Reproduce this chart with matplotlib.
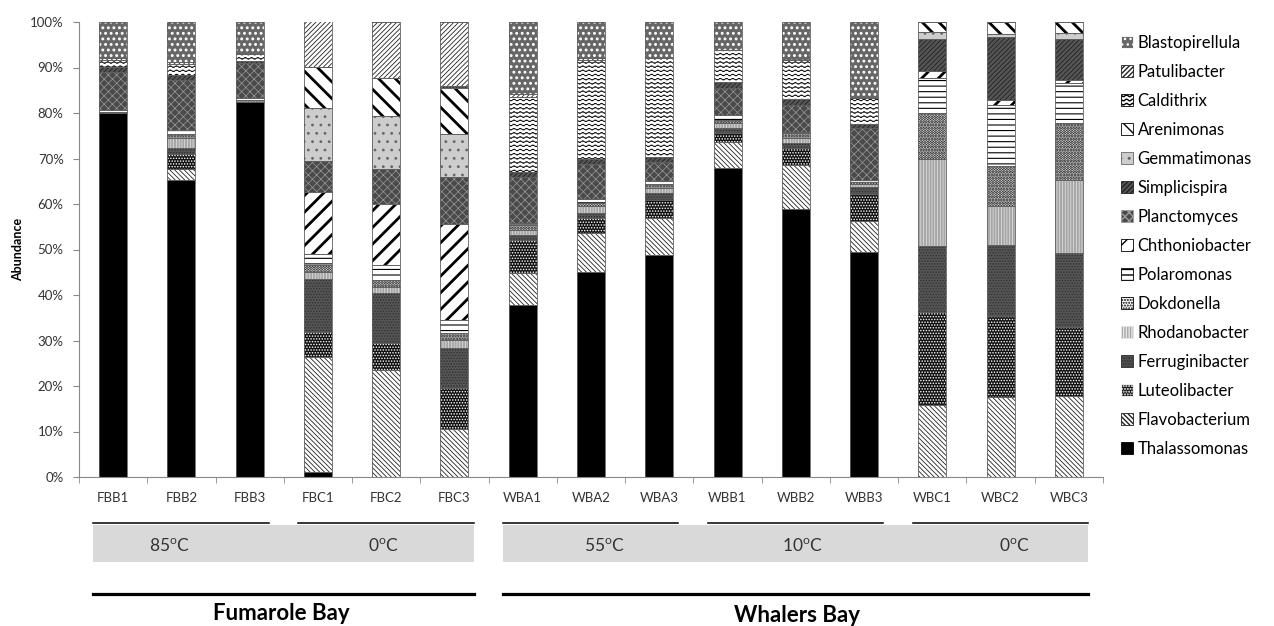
import warnings
import numpy as np
import matplotlib
matplotlib.use("Agg")
import matplotlib.pyplot as plt
import matplotlib.hatch as mhatch
from matplotlib.path import Path
from matplotlib.patches import Patch, Rectangle
from matplotlib.transforms import blended_transform_factory
from matplotlib.ticker import FuncFormatter

warnings.filterwarnings("ignore")

plt.rcParams['font.family'] = ['Lato', 'DejaVu Sans']
plt.rcParams['mathtext.fontset'] = 'custom'
plt.rcParams['mathtext.rm'] = 'Lato'

samples = ['FBB1', 'FBB2', 'FBB3', 'FBC1', 'FBC2', 'FBC3',
           'WBA1', 'WBA2', 'WBA3', 'WBB1', 'WBB2', 'WBB3',
           'WBC1', 'WBC2', 'WBC3']

# relative abundance (%) per genus, bottom of the stack first
thalassomonas   = [80.0, 65.3, 82.5, 1.0, 0.0, 0.0, 37.8, 45.1, 48.8, 68.0, 59.0, 49.5, 0.0, 0.0, 0.0]
flavobacterium  = [0.0, 2.5, 0.0, 25.3, 23.5, 10.5, 7.1, 8.5, 8.1, 5.7, 9.6, 6.8, 15.8, 17.5, 17.8]
luteolibacter   = [0.0, 3.2, 0.0, 5.5, 5.9, 9.0, 7.2, 3.3, 4.0, 1.8, 3.6, 6.0, 20.5, 17.9, 15.1]
ferruginibacter = [0.0, 1.2, 0.0, 11.7, 11.0, 8.8, 1.1, 1.1, 1.5, 1.1, 1.1, 1.5, 14.5, 15.6, 16.4]
rhodanobacter   = [0.0, 2.2, 0.0, 1.5, 1.4, 1.8, 1.1, 1.5, 1.1, 1.1, 1.1, 0.5, 19.0, 8.6, 16.0]
dokdonella      = [0.3, 1.0, 0.4, 1.5, 1.5, 1.5, 1.1, 0.7, 1.0, 0.7, 1.1, 0.5, 10.1, 8.8, 12.6]
polaromonas     = [0.3, 0.8, 0.4, 2.6, 3.3, 2.8, 0.5, 1.0, 0.5, 1.1, 0.3, 0.5, 7.9, 13.4, 8.6]
chthoniobacter  = [0.0, 0.0, 0.0, 13.5, 13.4, 21.2, 0.0, 0.0, 0.0, 0.0, 0.0, 0.0, 1.5, 1.1, 0.7]
planctomyces    = [8.5, 11.0, 7.7, 6.8, 7.6, 10.3, 10.1, 7.5, 4.3, 5.9, 5.9, 11.3, 0.0, 0.0, 0.0]
simplicispira   = [1.0, 1.2, 0.5, 0.0, 0.0, 0.0, 1.1, 1.1, 1.1, 1.5, 1.4, 1.0, 6.9, 13.9, 9.0]
gemmatimonas    = [0.0, 0.0, 0.0, 11.7, 11.7, 9.5, 0.0, 0.0, 0.0, 0.0, 0.0, 0.0, 1.5, 0.5, 1.3]
arenimonas      = [0.0, 0.0, 0.0, 8.9, 8.3, 10.2, 0.0, 0.0, 0.0, 0.0, 0.0, 0.0, 2.3, 2.7, 2.5]
caldithrix      = [1.5, 2.3, 1.5, 0.0, 0.0, 0.4, 16.5, 21.8, 21.6, 6.9, 8.5, 5.8, 0.0, 0.0, 0.0]
patulibacter    = [0.5, 0.4, 0.0, 10.3, 12.4, 14.0, 0.5, 0.4, 0.0, 0.0, 0.0, 0.0, 0.0, 0.0, 0.0]
blastopirellula = [8.0, 8.8, 7.0, 0.0, 0.0, 0.0, 15.9, 8.0, 8.0, 6.2, 8.4, 16.6, 0.0, 0.0, 0.0]

genera = ['Thalassomonas', 'Flavobacterium', 'Luteolibacter', 'Ferruginibacter',
          'Rhodanobacter', 'Dokdonella', 'Polaromonas', 'Chthoniobacter',
          'Planctomyces', 'Simplicispira', 'Gemmatimonas', 'Arenimonas',
          'Caldithrix', 'Patulibacter', 'Blastopirellula']
series = [thalassomonas, flavobacterium, luteolibacter, ferruginibacter,
          rhodanobacter, dokdonella, polaromonas, chthoniobacter,
          planctomyces, simplicispira, gemmatimonas, arenimonas,
          caldithrix, patulibacter, blastopirellula]

sites = ['Fumarole Bay', 'Whalers Bay']
temps = ['85', '0', '55', '10', '0']


# wavy line hatch, used with '~'
class WaveHatch(mhatch.HatchPatternBase):
    periods = 16
    samples_per_period = 6

    def __init__(self, hatch, density):
        self.num_lines = int(hatch.count('~') * density)
        self.npts = self.periods * self.samples_per_period + 1
        self.num_vertices = (self.num_lines + 1) * self.npts if self.num_lines else 0

    def set_vertices_and_codes(self, vertices, codes):
        xs = np.linspace(0, 1, self.npts)
        wave = 0.009 * np.sin(2 * np.pi * self.periods * xs)
        for i in range(self.num_lines + 1):
            sl = slice(i * self.npts, (i + 1) * self.npts)
            vertices[sl, 0] = xs
            vertices[sl, 1] = i / self.num_lines + wave
            codes[sl] = Path.LINETO
            codes[i * self.npts] = Path.MOVETO


mhatch._hatch_types.append(WaveHatch)

# face colour, hatch, hatch colour, hatch line width
styles = {
    'Thalassomonas':   ('black', None, 'black', 0.5),
    'Flavobacterium':  ('white', '\\\\\\\\\\\\\\', '#222222', 0.6),
    'Luteolibacter':   ('#111111', '......', 'white', 0.7),
    'Ferruginibacter': ('#555555', '......', '#2e2e2e', 0.6),
    'Rhodanobacter':   ('#a6a6a6', '||||||', '#e6e6e6', 0.5),
    'Dokdonella':      ('white', '......', 'black', 1.5),
    'Polaromonas':     ('white', '---', 'black', 0.8),
    'Chthoniobacter':  ('white', '//', 'black', 2.0),
    'Planctomyces':    ('#4a4a4a', 'xxxx', '#9a9a9a', 0.5),
    'Simplicispira':   ('#555555', '///////', '#222222', 0.6),
    'Gemmatimonas':    ('#cdcdcd', '..', '#666666', 0.8),
    'Arenimonas':      ('white', '\\\\', 'black', 2.0),
    'Caldithrix':      ('white', '~~~~', 'black', 0.6),
    'Patulibacter':    ('white', '///////', '#222222', 0.6),
    'Blastopirellula': ('#666666', '...', 'white', 1.3),
}


def styled_bar(ax, x, h, bottom, name, width):
    fc, hatch, hc, hlw = styles[name]
    with plt.rc_context({'hatch.linewidth': hlw}):
        bars = ax.bar(x, h, width, bottom=bottom, color=fc, hatch=hatch,
                      edgecolor=hc, linewidth=0)
    for b in bars:
        if hasattr(b, 'set_hatch_linewidth'):
            b.set_hatch_linewidth(hlw)
    ax.bar(x, h, width, bottom=bottom, fill=False, edgecolor='#606060', linewidth=0.6)


fig = plt.figure(figsize=(12.74, 6.26), dpi=100)
ax = fig.add_axes([79 / 1274, 1 - 477 / 626, 1024 / 1274, 455 / 626])

x = np.arange(len(samples))
width = 0.41
bottom = np.zeros(len(samples))
for name, vals in zip(genera, series):
    vals = np.array(vals)
    styled_bar(ax, x, vals, bottom, name, width)
    bottom += vals

ax.set_xlim(-0.5, len(samples) - 0.5)
ax.set_ylim(0, 100)
ax.set_yticks(np.arange(0, 101, 10))
ax.yaxis.set_major_formatter(FuncFormatter(lambda v, p: f"{v:.0f}%"))
ax.set_xticks(x, samples)
ax.set_xticks(np.arange(-0.5, len(samples), 1), minor=True)
ax.tick_params(axis='x', which='major', length=0, pad=11, labelsize=9.5, labelcolor='#333333')
ax.tick_params(axis='x', which='minor', length=4, color='#888888')
ax.tick_params(axis='y', length=4, color='#888888', labelsize=9.5, labelcolor='#333333', pad=7)
for s in ['top', 'right']:
    ax.spines[s].set_visible(False)
for s in ['left', 'bottom']:
    ax.spines[s].set_color('#888888')
    ax.spines[s].set_linewidth(0.8)
ax.set_ylabel('Abundance', fontsize=9, fontweight='bold', labelpad=4)

# sample groups, temperature boxes and site labels under the axis
trans = blended_transform_factory(ax.transData, fig.transFigure)


def fy(pix):
    return 1 - pix / 626


temp_x = [0.82, 3.96, 7.2, 10.1, 13.2]
for g in range(5):
    x0, x1 = 3 * g - 0.29, 3 * g + 2.28
    ax.plot([x0, x1], [fy(523), fy(523)], transform=trans, clip_on=False,
            color='black', lw=1.1)
    ax.text(temp_x[g], fy(546), temps[g] + r'$^{\rm o}$C', transform=trans,
            ha='center', va='center', fontsize=12.5, color='#333333')

site_spans = [(-0.29, 5.28), (5.71, 14.28)]
site_x = [2.47, 10.02]
site_y = [613, 616]
for (x0, x1), sx, sy, name in zip(site_spans, site_x, site_y, sites):
    ax.add_patch(Rectangle((x0, fy(562)), x1 - x0, fy(525) - fy(562), transform=trans,
                           clip_on=False, facecolor='#d9d9d9', edgecolor='none'))
    ax.plot([x0, x1], [fy(594), fy(594)], transform=trans, clip_on=False,
            color='black', lw=2.3)
    ax.text(sx, fy(sy), name, transform=trans, ha='center', va='center',
            fontsize=16, fontweight='bold', color='black')

# legend, top entry is the top of the stack
handles = []
for name in genera[::-1]:
    fc, hatch, hc, hlw = styles[name]
    handles.append(Patch(facecolor=fc, hatch=hatch, edgecolor=hc, linewidth=0.6))
fig.legend(handles, genera[::-1], loc='upper left', bbox_to_anchor=(1121 / 1274, fy(35)),
           frameon=False, fontsize=12, handlelength=0.7, handleheight=0.7,
           handletextpad=0.3, labelspacing=0.78, borderpad=0, borderaxespad=0)

fig.savefig('out.png', dpi=100)
